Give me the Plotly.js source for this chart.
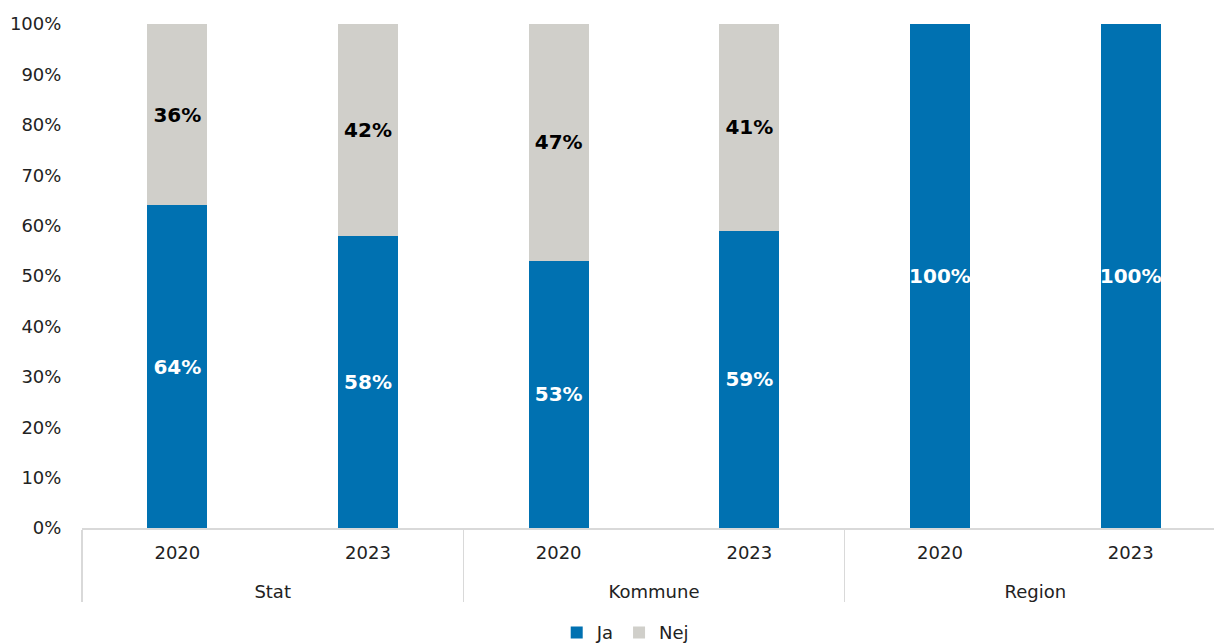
<!DOCTYPE html>
<html><head><meta charset="utf-8">
<script src="https://cdn.plot.ly/plotly-3.0.1.min.js"></script>
<style>html,body{margin:0;padding:0;background:#fff;}#chart{width:1214px;height:643px;}</style>
</head><body><div id="chart"></div>
<script>
const groups = ["Stat","Stat","Kommune","Kommune","Region","Region"];
const years = ["2020","2023","2020","2023","2020","2023"];
const jaValues = [64, 58, 53, 59, 100, 100];
const nejValues = [36, 42, 47, 41, 0, 0];
const yTicks = [0,10,20,30,40,50,60,70,80,90,100];

const lbl = v => v > 0 ? v + "%" : "";
const font = "DejaVu Sans, Verdana, sans-serif";
// inner labels padded with an empty second line to widen the gap to the group labels
const yearLabels = years.map(y => y + "<br> ");

const traces = [
  {type:"bar", name:"Ja", x:[groups, yearLabels], y:jaValues, text:jaValues.map(lbl),
   textposition:"inside", insidetextanchor:"middle", constraintext:"none", textangle:0,
   textfont:{family:font, size:20, color:"#ffffff", weight:"bold"},
   marker:{color:"#0071B1"}, hoverinfo:"skip"},
  {type:"bar", name:"Nej", x:[groups, yearLabels], y:nejValues, text:nejValues.map(lbl),
   textposition:"inside", insidetextanchor:"middle", constraintext:"none", textangle:0,
   textfont:{family:font, size:20, color:"#000000", weight:"bold"},
   marker:{color:"#D0CFCA"}, hoverinfo:"skip"}
];

const layout = {
  width:1214, height:643,
  margin:{l:82, r:0, t:24, b:115, autoexpand:false},
  barmode:"stack", bargap:0.686,
  paper_bgcolor:"#fff", plot_bgcolor:"#fff",
  font:{family:font, size:18, color:"#222"},
  showlegend:true,
  legend:{orientation:"h", xref:"container", yref:"container", x:0.515, xanchor:"center", y:0.016, yanchor:"middle",
          font:{size:18, color:"#222"}, itemwidth:30, traceorder:"normal"},
  xaxis:{type:"multicategory", automargin:false, range:[-0.5, 5.437], showline:true, linecolor:"#D9D9D9", linewidth:1.5,
         showdividers:true, dividercolor:"#D9D9D9", dividerwidth:1.5, ticklabelstandoff:8,
         ticks:"", tickfont:{size:18, color:"#222"}, showgrid:false, zeroline:false},
  yaxis:{automargin:false, range:[0,100], tickvals:yTicks, ticktext:yTicks.map(v=>v+"%"), showgrid:false, zeroline:false,
         showline:false, ticks:"outside", ticklen:16, tickcolor:"rgba(0,0,0,0)", tickfont:{size:18, color:"#222"}}
};
Plotly.newPlot("chart", traces, layout, {displayModeBar:false, staticPlot:true});
</script></body></html>
